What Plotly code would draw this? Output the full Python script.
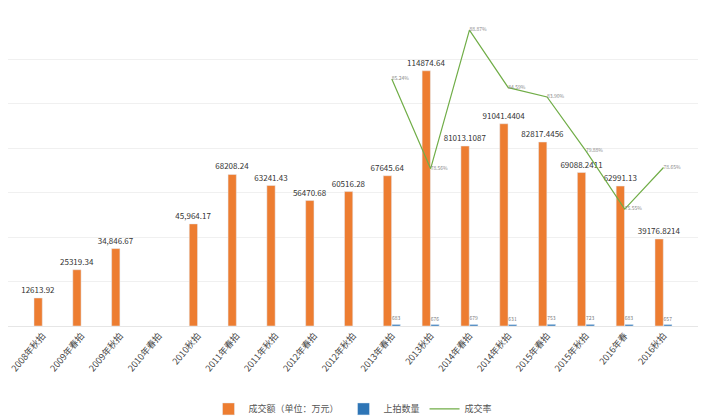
import plotly.graph_objects as go

cats = ["2008年秋拍","2009年春拍","2009年秋拍","2010年春拍","2010秋拍","2011年春拍","2011年秋拍","2012年春拍","2012年秋拍","2013年春拍","2013秋拍","2014年春拍","2014年秋拍","2015年春拍","2015年秋拍","2016年春","2016秋拍"]
amount = [12613.92,25319.34,34846.67,None,45964.17,68208.24,63241.43,56470.68,60516.28,67645.64,114874.64,81013.1087,91041.4404,82817.4456,69088.2411,62991.13,39176.8214]
amount_lbl = ["12613.92","25319.34","34,846.67","","45,964.17","68208.24","63241.43","56470.68","60516.28","67645.64","114874.64","81013.1087","91041.4404","82817.4456","69088.2411","62991.13","39176.8214"]
count = [None]*9 + [683,676,679,631,753,723,683,657]
rate = [None]*9 + [85.24,78.56,88.87,84.59,83.90,79.88,75.55,78.65]

fig = go.Figure()
fig.add_bar(x=cats, y=amount, name="成交额（单位：万元）", marker_color="#ED7D31",
            text=amount_lbl, textposition="outside", constraintext="none",
            textfont=dict(size=8, color="#333"), cliponaxis=False)
fig.add_bar(x=cats, y=count, name="上拍数量", marker_color="#2E75B6",
            text=[("" if c is None else str(c)) for c in count], textposition="outside",
            constraintext="none", textfont=dict(size=5, color="#777"), cliponaxis=False)
fig.add_scatter(x=cats, y=rate, name="成交率", yaxis="y2", mode="lines+text",
                line=dict(color="#70AD47", width=1.2),
                text=[("" if r is None else f"{r:.2f}%") for r in rate], textposition="middle right",
                textfont=dict(size=5, color="#888"), cliponaxis=False)
fig.update_layout(
    width=720, height=418, margin=dict(l=0, r=30, t=7, b=100),
    plot_bgcolor="white", paper_bgcolor="white",
    font=dict(family="Noto Sans CJK SC"),
    barmode="group", bargap=0.55, bargroupgap=0.05,
    xaxis=dict(tickangle=-50, tickfont=dict(size=9, color="#444"), showline=True, linecolor="#e6e6e6"),
    yaxis=dict(range=[0,140000], dtick=20000, showticklabels=False, gridcolor="#f0f0f0", zeroline=False),
    yaxis2=dict(range=[66.85,90], overlaying="y", side="right", showticklabels=False, showgrid=False),
    legend=dict(orientation="h", x=0.5, xanchor="center", y=-0.22, font=dict(size=9, color="#555"),
                itemwidth=30),
    showlegend=True,
)
fig.write_html("out.html")
